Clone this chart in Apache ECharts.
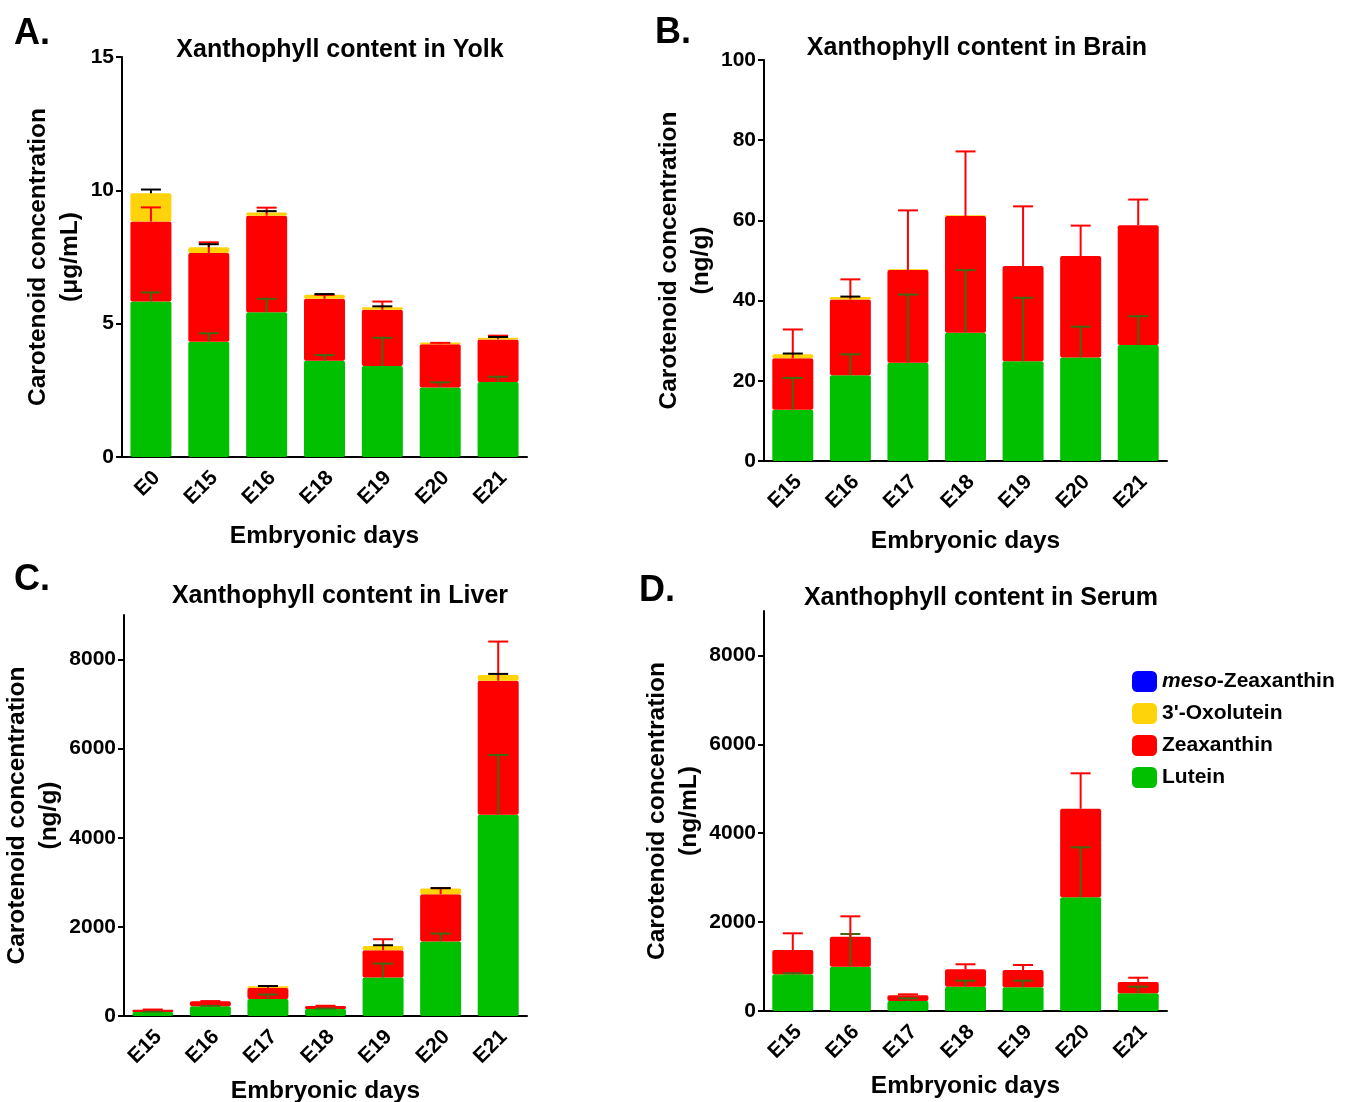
<!DOCTYPE html>
<html>
<head>
<meta charset="utf-8">
<script src="https://cdn.jsdelivr.net/npm/echarts@6/dist/echarts.min.js"></script>
<style>
  html, body { margin: 0; padding: 0; background: #fff; }
  #chart { width: 1346px; height: 1102px; }
</style>
</head>
<body>
<div id="chart"></div>
<script>
const FONT = "Liberation Sans, Arial, Helvetica, sans-serif";

const pigments = ["meso-Zeaxanthin", "3'-Oxolutein", "Zeaxanthin", "Lutein"];

// A. Yolk (ug/mL)
const yolkDays = ["E0", "E15", "E16", "E18", "E19", "E20", "E21"];
const yolkLutein = [5.83, 4.32, 5.43, 3.61, 3.41, 2.61, 2.81];
const yolkLuteinErr = [0.34, 0.32, 0.5, 0.21, 1.06, 0.19, 0.2];
const yolkZea = [3.0, 3.33, 3.62, 2.32, 2.11, 1.62, 1.6];
const yolkZeaErr = [0.53, 0.4, 0.3, 0.15, 0.31, 0.05, 0.14];
const yolkOxo = [1.06, 0.22, 0.12, 0.15, 0.1, 0.06, 0.06];
const yolkOxoErr = [0.14, 0.11, 0.05, 0.03, 0.03, 0, 0.03];
const yolkMeso = [0, 0, 0, 0, 0, 0, 0];

// B. Brain (ng/g)
const brainDays = ["E15", "E16", "E17", "E18", "E19", "E20", "E21"];
const brainLutein = [12.8, 21.4, 24.5, 32.0, 24.9, 25.8, 28.9];
const brainLuteinErr = [7.9, 5.2, 17.0, 15.6, 15.8, 7.7, 7.2];
const brainZea = [12.8, 18.9, 23.1, 29.1, 23.7, 25.3, 29.9];
const brainZeaErr = [7.2, 5.0, 14.9, 16.1, 14.9, 7.6, 6.4];
const brainOxo = [1.0, 0.6, 0.2, 0.2, 0, 0, 0];
const brainOxoErr = [0.2, 0.1, 0, 0, 0, 0, 0];
const brainMeso = [0, 0, 0, 0, 0, 0, 0];

// C. Liver (ng/g)
const liverDays = ["E15", "E16", "E17", "E18", "E19", "E20", "E21"];
const liverLutein = [90, 218, 382, 157, 862, 1671, 4516];
const liverLuteinErr = [10, 10, 99, 10, 315, 180, 1342];
const liverZea = [50, 112, 247, 68, 614, 1063, 3011];
const liverZeaErr = [5, 5, 45, 5, 247, 135, 877];
const liverOxo = [0, 0, 38, 0, 97, 128, 128];
const liverOxoErr = [0, 0, 5, 0, 15, 8, 23];
const liverMeso = [0, 0, 0, 0, 0, 0, 0];

// D. Serum (ng/mL)
const serumDays = ["E15", "E16", "E17", "E18", "E19", "E20", "E21"];
const serumLutein = [825, 997, 225, 547, 533, 2558, 398];
const serumLuteinErr = [25, 735, 60, 135, 149, 1125, 149];
const serumZea = [547, 675, 128, 391, 389, 1993, 254];
const serumZeaErr = [376, 458, 22, 113, 113, 797, 97];
const serumOxo = [0, 0, 0, 0, 0, 0, 0];
const serumOxoErr = [0, 0, 0, 0, 0, 0, 0];
const serumMeso = [0, 0, 0, 0, 0, 0, 0];

const colors = {
  "meso-Zeaxanthin": "#0000ff",
  "3'-Oxolutein": "#ffd30a",
  "Zeaxanthin": "#ff0000",
  "Lutein": "#00c000",
};
const errColors = {
  "3'-Oxolutein": "#000000",
  "Zeaxanthin": "#ff0000",
  "Lutein": "#3f6a12",
};

const panels = [
  {
    letter: "A.", title: "Xanthophyll content in Yolk", unit: "(\u03bcg/mL)",
    days: yolkDays, max: 15, interval: 5, ticks: [0, 5, 10, 15],
    grid: { left: 122, top: 57, width: 405, height: 400 },
    titlePos: [335, 33], letterPos: [14, 16], nameGap: 36, xNameGap: 67,
    lutein: [yolkLutein, yolkLuteinErr], zea: [yolkZea, yolkZeaErr], oxo: [yolkOxo, yolkOxoErr], meso: yolkMeso,
  },
  {
    letter: "B.", title: "Xanthophyll content in Brain", unit: "(ng/g)",
    days: brainDays, max: 100, interval: 20, ticks: [0, 20, 40, 60, 80, 100],
    grid: { left: 764, top: 60, width: 403, height: 401 },
    titlePos: [972, 31], letterPos: [655, 15], nameGap: 38, xNameGap: 68,
    lutein: [brainLutein, brainLuteinErr], zea: [brainZea, brainZeaErr], oxo: [brainOxo, brainOxoErr], meso: brainMeso,
  },
  {
    letter: "C.", title: "Xanthophyll content in Liver", unit: "(ng/g)",
    days: liverDays, max: 9000, interval: 2000, ticks: [0, 2000, 4000, 6000, 8000],
    grid: { left: 124, top: 615, width: 403, height: 401 },
    titlePos: [335, 579], letterPos: [14, 562], nameGap: 58, xNameGap: 63,
    lutein: [liverLutein, liverLuteinErr], zea: [liverZea, liverZeaErr], oxo: [liverOxo, liverOxoErr], meso: liverMeso,
  },
  {
    letter: "D.", title: "Xanthophyll content in Serum", unit: "(ng/mL)",
    days: serumDays, max: 9000, interval: 2000, ticks: [0, 2000, 4000, 6000, 8000],
    grid: { left: 764, top: 611, width: 403, height: 400 },
    titlePos: [976, 581], letterPos: [639, 573], nameGap: 58, xNameGap: 63,
    lutein: [serumLutein, serumLuteinErr], zea: [serumZea, serumZeaErr], oxo: [serumOxo, serumOxoErr], meso: serumMeso,
  },
];

const axisLineStyle = { color: "#000", width: 2 };
const labelFont = { color: "#000", fontFamily: FONT, fontWeight: "bold", fontSize: 21 };

const option = {
  animation: false,
  backgroundColor: "#fff",
  title: [],
  grid: [],
  xAxis: [],
  yAxis: [],
  series: [],
  graphic: [],
  legend: {
    data: pigments,
    orient: "vertical",
    left: 1127,
    top: 666,
    itemWidth: 25,
    itemHeight: 21,
    itemGap: 11,
    icon: "roundRect",
    textStyle: {
      color: "#000", fontFamily: FONT, fontWeight: "bold", fontSize: 21,
      rich: { i: { fontStyle: "italic", fontWeight: "bold", fontFamily: FONT, fontSize: 21, color: "#000" } },
    },
    formatter: function (name) {
      return name === "meso-Zeaxanthin" ? "{i|meso}-Zeaxanthin" : name;
    },
  },
};

function errorSeries(gi, name, base, seg, err) {
  const data = seg.map((v, i) => [i, base[i] + v, base[i] + v + err[i]]);
  return {
    type: "custom",
    name: name + " SEM " + gi,
    xAxisIndex: gi,
    yAxisIndex: gi,
    z: 5,
    silent: true,
    encode: { x: 0, y: [1, 2] },
    data: data,
    renderItem: function (params, api) {
      const x = api.value(0);
      const lo = api.value(1);
      const hi = api.value(2);
      if (!(hi > lo)) return null;
      const p0 = api.coord([x, lo]);
      const p1 = api.coord([x, hi]);
      const style = { stroke: errColors[name], lineWidth: 2 };
      return {
        type: "group",
        children: [
          { type: "line", shape: { x1: p0[0], y1: p0[1], x2: p1[0], y2: p1[1] }, style: style },
          { type: "line", shape: { x1: p1[0] - 10, y1: p1[1], x2: p1[0] + 10, y2: p1[1] }, style: style },
        ],
      };
    },
  };
}

panels.forEach((p, gi) => {
  option.grid.push(Object.assign({ outerBoundsMode: "none", containLabel: false }, p.grid));
  option.title.push({
    text: p.title,
    left: p.titlePos[0],
    top: p.titlePos[1],
    textAlign: "center",
    textStyle: { color: "#000", fontFamily: FONT, fontWeight: "bold", fontSize: 25 },
  });
  option.graphic.push({
    type: "text",
    left: p.letterPos[0],
    top: p.letterPos[1],
    style: { text: p.letter, fill: "#000", font: "bold 36px " + FONT },
  });
  option.xAxis.push({
    gridIndex: gi,
    type: "category",
    data: p.days,
    name: "Embryonic days",
    nameLocation: "middle",
    nameGap: p.xNameGap,
    nameTextStyle: { color: "#000", fontFamily: FONT, fontWeight: "bold", fontSize: 24.5, verticalAlign: "top" },
    axisLine: { lineStyle: axisLineStyle },
    axisTick: { alignWithLabel: true, length: 6, lineStyle: axisLineStyle },
    axisLabel: Object.assign({
      rotate: 45,
      margin: 12,
      interval: 0,
      formatter: function (v) { return "{d|" + v + "}"; },
      rich: { d: Object.assign({ padding: [16, 0, 0, 0] }, labelFont) },
    }, labelFont),
  });
  option.yAxis.push({
    gridIndex: gi,
    type: "value",
    min: 0,
    max: p.max,
    interval: p.interval,
    name: "Carotenoid concentration\n" + p.unit,
    nameLocation: "middle",
    nameRotate: 90,
    nameGap: p.nameGap,
    nameTextStyle: { color: "#000", fontFamily: FONT, fontWeight: "bold", fontSize: 24.5, lineHeight: 32 },
    axisLine: { show: true, lineStyle: axisLineStyle },
    axisTick: { show: true, length: 6, lineStyle: axisLineStyle, customValues: p.ticks },
    axisLabel: Object.assign({
      margin: 8,
      customValues: p.ticks,
      formatter: function (v) { return String(v); },
    }, labelFont),
    splitLine: { show: false },
  });

  const segs = [
    ["Lutein", p.lutein[0]],
    ["Zeaxanthin", p.zea[0]],
    ["3'-Oxolutein", p.oxo[0]],
    ["meso-Zeaxanthin", p.meso],
  ];
  segs.forEach(([name, vals]) => {
    option.series.push({
      type: "bar",
      name: name,
      stack: "total" + gi,
      xAxisIndex: gi,
      yAxisIndex: gi,
      barWidth: 41,
      itemStyle: { color: colors[name], borderRadius: 2 },
      data: vals,
    });
  });

  const zero = p.days.map(() => 0);
  const afterLutein = p.lutein[0];
  const afterZea = p.lutein[0].map((v, i) => v + p.zea[0][i]);
  option.series.push(errorSeries(gi, "Lutein", zero, p.lutein[0], p.lutein[1]));
  option.series.push(errorSeries(gi, "Zeaxanthin", afterLutein, p.zea[0], p.zea[1]));
  option.series.push(errorSeries(gi, "3'-Oxolutein", afterZea, p.oxo[0], p.oxo[1]));
});

const chart = echarts.init(document.getElementById("chart"));
chart.setOption(option);

window.addEventListener("resize", () => {
  chart.resize();
});
</script>
</body>
</html>
